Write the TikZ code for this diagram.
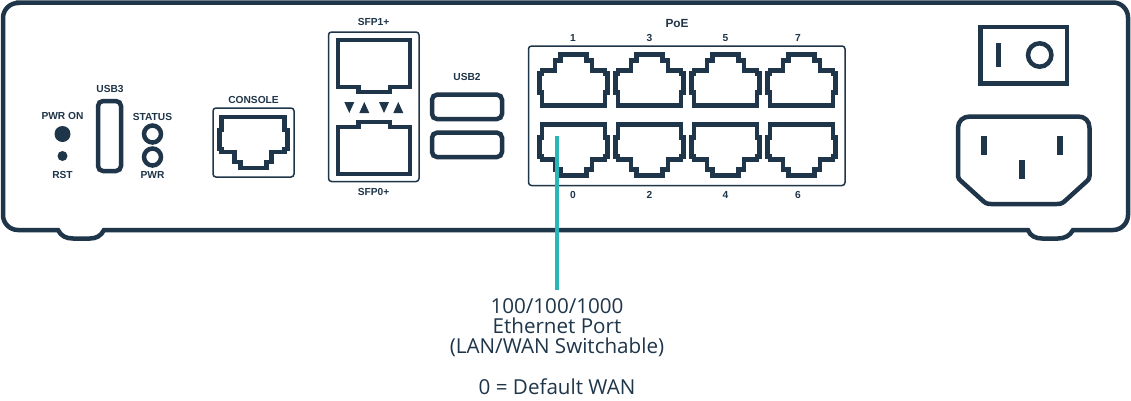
\documentclass[tikz,border=0pt]{standalone}
\usepackage{fontspec}
\setmainfont{Liberation Sans}
\newfontfamily\capfont{Open Sans}
\definecolor{navy}{HTML}{1F3549}
\definecolor{tealline}{HTML}{2AB5B9}
\tikzset{
  x=1pt,y=-1pt,
  thick line/.style={draw=navy,line width=4.9pt,line join=miter},
  thin box/.style={draw=navy,line width=1.5pt,rounded corners=3pt},
  usbslot/.style={draw=navy,line width=4.5pt,rounded corners=5pt},
  ring/.style={draw=navy,line width=4.5pt},
  dot/.style={fill=navy},
  tiny label/.style={font=\bfseries\fontsize{10.2}{11}\selectfont,text=navy,inner sep=0pt},
  pin/.style={fill=navy},
  pics/rjport/.style={code={
    \draw[thick line] (-31.5,0)--(-31.5,13)--(-34,13)--(-34,32)--(-31.5,32)--(-31.5,35)--(-18.5,35)--(-18.5,45)--(-13,45)--(-13,51)
      --(13,51)--(13,45)--(18.5,45)--(18.5,35)--(31.5,35)--(31.5,32)--(34,32)--(34,13)--(31.5,13)--(31.5,0)--cycle;
  }},
}
\begin{document}
\begin{tikzpicture}
\useasboundingbox (0,0) rectangle (1131,400);
\fill[white] (0,0) rectangle (1131,400);
% chassis
\draw[thick line,line width=4.5pt,rounded corners=0pt]
  (18,2.5) -- (1113,2.5) arc[start angle=90,end angle=0,x radius=15,y radius=-15]
  -- (1128,215) arc[start angle=0,end angle=-90,x radius=15,y radius=-15]
  -- (1073,230)
  .. controls (1070,236) and (1064,238.5) .. (1058,238.5) -- (1042,238.5)
  .. controls (1036,238.5) and (1030,236) .. (1028,230)
  -- (104,230) .. controls (101,236) and (96,238.5) .. (90,238.5) -- (73,238.5)
  .. controls (66,238.5) and (61,236) .. (58,230)
  -- (18,230) arc[start angle=270,end angle=180,x radius=15,y radius=-15]
  -- (3,18) arc[start angle=180,end angle=90,x radius=15,y radius=-15] -- cycle;
% left LEDs and USB3
\fill[dot] (62.5,134) circle[radius=8];
\fill[dot] (62.5,156) circle[radius=5];
\draw[usbslot] (98,101) rectangle (121,171);
\draw[ring] (152.5,134) circle[radius=8.5];
\draw[ring] (152.5,157) circle[radius=8.5];
% console
\draw[thin box] (213,108) rectangle (294,177);
\pic at (253.3,117) {rjport};
% SFP
\draw[thin box] (328.5,32) rectangle (419,181.5);
\draw[thick line] (338,40)--(410,40)--(410,87)--(390,87)--(390,92)--(358.5,92)--(358.5,87)--(338,87)--cycle;
\draw[thick line] (338,174)--(410,174)--(410,127)--(390,127)--(390,122)--(358.5,122)--(358.5,127)--(338,127)--cycle;
\fill[dot] (344.3,102)--(354.3,102)--(349.3,113)--cycle;
\fill[dot] (359.3,113)--(369.3,113)--(364.3,102)--cycle;
\fill[dot] (379,102)--(389,102)--(384,113)--cycle;
\fill[dot] (393.3,113)--(403.3,113)--(398.3,102)--cycle;
% USB2
\draw[usbslot] (432,94.7) rectangle (502,119);
\draw[usbslot] (432,132.7) rectangle (502,157);
% PoE block
\draw[thin box] (528.5,46) rectangle (845,185.5);
\foreach \cx in {573.5,649.5,725.5,801.5}{
  \pic[yscale=-1] at (\cx,105.7) {rjport};
  \pic at (\cx,124.7) {rjport};
}
% power switch
\draw[thick line] (980.3,27) rectangle (1067,83.7);
\fill[pin] (995.5,43) rectangle (1000.5,67);
\draw[ring] (1039.7,55) circle[radius=11.7];
% inlet
\draw[draw=navy,line width=4.5pt,line join=round]
  (970,116.5) -- (1078,116.5) .. controls (1085,116.5) and (1089.5,121) .. (1089.5,128)
  -- (1089.5,176) .. controls (1089.5,178.5) and (1088.5,179.5) .. (1087,181)
  -- (1066,200) .. controls (1063,203) and (1061,204) .. (1057,204)
  -- (991,204) .. controls (987,204) and (985,203) .. (982,200)
  -- (961,181) .. controls (959.5,179.5) and (958,178.5) .. (958,176)
  -- (958,128) .. controls (958,121) and (963,116.5) .. (970,116.5) -- cycle;
\fill[pin] (981.3,136) rectangle (987.3,155);
\fill[pin] (1057,136) rectangle (1063,155);
\fill[pin] (1019.3,160) rectangle (1025.3,179);
% labels
\node[tiny label] (lpwron) at (62.5,116) {PWR ON};
\node[tiny label] (lrst) at (62.5,175) {RST};
\node[tiny label] (lusb3) at (110,89) {USB3};
\node[tiny label] (lstatus) at (152.5,117) {STATUS};
\node[tiny label] (lpwr) at (152.5,175) {PWR};
\node[tiny label] (lconsole) at (253.5,100) {CONSOLE};
\node[tiny label] (lsfp1) at (373.5,22) {SFP1+};
\node[tiny label] (lsfp0) at (373.5,192) {SFP0+};
\node[tiny label] (lusb2) at (467,77) {USB2};
\node[tiny label,font=\bfseries\fontsize{11.8}{13}\selectfont] (lpoe) at (677,23) {PoE};
\node[tiny label] (p1) at (573,38) {1};
\node[tiny label] (p3) at (649.5,38) {3};
\node[tiny label] (p5) at (725.5,38) {5};
\node[tiny label] (p7) at (798,38) {7};
\node[tiny label] (p0) at (573,195) {0};
\node[tiny label] (p2) at (649.5,195) {2};
\node[tiny label] (p4) at (725.5,195) {4};
\node[tiny label] (p6) at (798,195) {6};
% callout
\coordinate (calltop) at (556.5,136);
\coordinate (callend) at (556.5,290);
\node[font=\capfont\fontsize{20.6}{20.4}\selectfont,text=navy,align=center,inner sep=0pt,anchor=north] (caption) at (557,298)
  {100/100/1000\\Ethernet Port\\(LAN/WAN Switchable)\\[20.4pt]0 = Default WAN};
\draw[draw=tealline,line width=4pt] (calltop) -- (callend);
\end{tikzpicture}
\end{document}
